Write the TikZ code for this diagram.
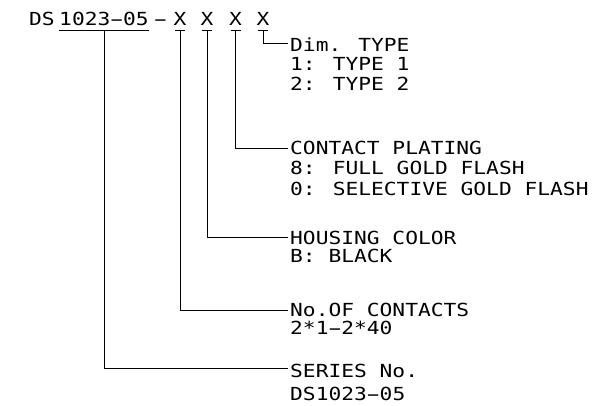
\documentclass[tikz,border=0pt]{standalone}
\usepackage{fontspec}
\usepackage{graphicx}
\newfontfamily\cadfont[FakeStretch=1.18]{DejaVu Sans Mono}
\newcommand\hy{\makebox[\fontcharwd\font`0][c]{\scalebox{1.9}[1]{-}}}
\begin{document}
\begin{tikzpicture}[x=1pt,y=-1pt,
  lbl/.style={font=\cadfont\fontsize{18}{18}\selectfont, inner sep=0pt,
              text height=13pt, text depth=0pt, anchor=base west},
  code/.style={lbl, anchor=base},
  ln/.style={line width=0.9pt, black}]
\useasboundingbox (0,0) rectangle (608,406);
\fill[white] (0,0) rectangle (608,406);

% part number
\node[lbl] (ds) at (29,26) {DS};
\node[code] (ser) at (104,26) {1023\hy05};
\node[code] (dash) at (160.5,26) {\hy};
\node[code] (xa) at (180,26) {X};
\node[code] (xb) at (207,26) {X};
\node[code] (xc) at (235.5,26) {X};
\node[code] (xd) at (263,26) {X};

% descriptions
\node[lbl] (dim)  at (290,52)  {Dim. TYPE};
\node[lbl] (dim1) at (290,71)  {1: TYPE 1};
\node[lbl] (dim2) at (290,91)  {2: TYPE 2};
\node[lbl] (cp)   at (290,155) {CONTACT PLATING};
\node[lbl] (cp1)  at (290,175) {8: FULL GOLD FLASH};
\node[lbl] (cp2)  at (290,196) {0: SELECTIVE GOLD FLASH};
\node[lbl] (hc)   at (290,245) {HOUSING COLOR};
\node[lbl] (hc1)  at (290,262) {B: BLACK};
\node[lbl] (nc)   at (290,316.5) {No.OF CONTACTS};
\node[lbl] (nc1)  at (290,334) {2*1\hy2*40};
\node[lbl] (sn)   at (290,377) {SERIES No.};
\node[lbl] (sn1)  at (290,400) {DS1023\hy05};

% underline and ticks
\draw[ln] ([yshift=-4pt]ser.base west) -- ([yshift=-4pt]ser.base east);
\foreach \n in {xa,xb,xc,xd}
  \draw[ln] ([shift={(-5pt,-4pt)}]\n.base) -- ([shift={(5pt,-4pt)}]\n.base);

% leaders
\draw[ln] ([yshift=-4pt]xd.base) |- ([shift={(-2pt,9pt)}]dim.base west);
\draw[ln] ([yshift=-4pt]xc.base) |- ([shift={(-2pt,7pt)}]cp.base west);
\draw[ln] ([yshift=-4pt]xb.base) |- ([shift={(-2pt,8pt)}]hc.base west);
\draw[ln] ([yshift=-4pt]xa.base) |- ([shift={(-2pt,6.5pt)}]nc.base west);
\draw[ln] ([yshift=-4pt]ser.base) |- ([shift={(-2pt,8.5pt)}]sn.base west);
\end{tikzpicture}
\end{document}
